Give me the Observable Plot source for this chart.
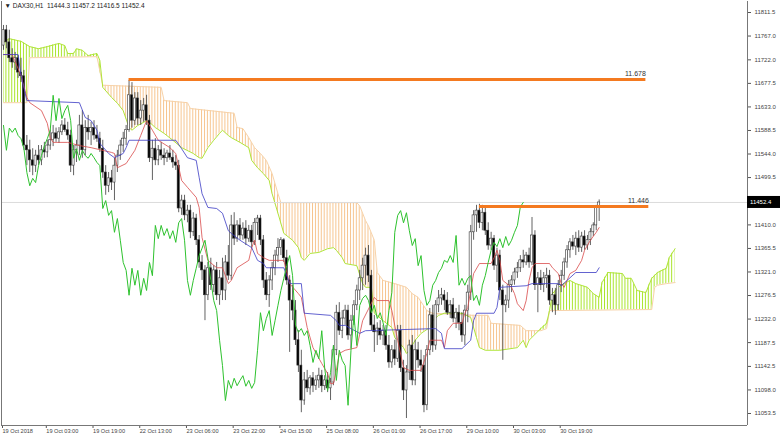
<!DOCTYPE html>
<html><head><meta charset="utf-8">
<script src="https://cdn.jsdelivr.net/npm/d3@7"></script>
<script src="https://cdn.jsdelivr.net/npm/@observablehq/plot@0.6"></script>
<style>
html,body{margin:0;padding:0;background:#fff;}
#chart svg{display:block;}
</style></head><body><div id="chart"></div>
<script>
// ---- Candles (H1, DAX30) ----
const open = [
11749,11778,11755,11725,11717,11725,11698,11691,11560,11551,
11532,11522,11541,11532,11551,11547,11560,11570,11583,11573,
11585,11598,11589,11579,11522,11551,11560,11598,11551,11593,
11585,11593,11579,11573,11554,11509,11484,11498,11490,11522,
11541,11560,11573,11589,11655,11607,11649,11611,11626,11636,
11607,11536,11554,11532,11551,11541,11536,11545,11537,11528,
11522,11441,11456,11428,11437,11396,11422,11381,11339,11324,
11277,11328,11296,11324,11277,11309,11286,11339,11314,11409,
11384,11409,11390,11403,11384,11399,11377,11414,11422,11381,
11305,11277,11305,11328,11352,11366,11381,11347,11305,11267,
11248,11192,11144,11078,11116,11101,11120,11106,11116,11125,
11105,11116,11101,11112,11173,11244,11210,11233,11248,11201,
11229,11258,11286,11309,11333,11352,11314,11220,11207,11214,
11201,11210,11182,11150,11173,11157,11210,11139,11097,11131,
11182,11116,11173,11154,11144,11069,11173,11239,11182,11258,
11271,11277,11267,11244,11258,11233,11244,11225,11201,11248,
11282,11396,11428,11437,11414,11433,11399,11371,11384,11333,
11352,11286,11258,11267,11296,11305,11320,11328,11343,11339,
11352,11339,11390,11296,11309,11296,11309,11314,11267,11277,
11258,11296,11314,11339,11362,11377,11369,11384,11367,11388,
11371,11381,11396,11409,11444.3];
const high = [
11787,11787,11778,11743,11736,11730,11725,11702,11579,11570,
11554,11551,11560,11560,11566,11570,11589,11598,11593,11594,
11607,11611,11604,11589,11560,11570,11617,11626,11607,11617,
11604,11607,11598,11585,11570,11522,11509,11513,11536,11551,
11570,11585,11598,11683,11679,11660,11660,11645,11649,11655,
11617,11570,11573,11560,11566,11554,11551,11560,11551,11541,
11532,11466,11466,11447,11447,11433,11430,11390,11352,11333,
11339,11347,11333,11339,11324,11347,11352,11371,11428,11433,
11418,11422,11414,11418,11409,11409,11422,11428,11428,11390,
11320,11314,11339,11362,11384,11386,11384,11362,11314,11296,
11267,11210,11173,11131,11135,11125,11131,11125,11139,11135,
11125,11131,11120,11182,11258,11263,11248,11258,11258,11239,
11267,11296,11324,11347,11366,11371,11324,11239,11225,11229,
11220,11220,11201,11182,11192,11220,11220,11154,11144,11192,
11201,11192,11188,11173,11163,11182,11252,11258,11267,11286,
11290,11286,11282,11267,11271,11252,11258,11244,11258,11296,
11409,11437,11447,11449,11447,11441,11414,11396,11390,11366,
11362,11296,11277,11305,11314,11328,11339,11352,11362,11358,
11366,11424,11399,11320,11324,11320,11328,11324,11290,11290,
11305,11324,11347,11371,11384,11390,11396,11399,11396,11399,
11390,11403,11414,11447,11457.2];
const low = [
11740,11743,11717,11706,11702,11687,11679,11551,11522,11509,
11503,11509,11522,11522,11536,11537,11551,11558,11566,11564,
11579,11585,11570,11509,11503,11528,11541,11536,11541,11570,
11560,11570,11566,11547,11498,11466,11471,11475,11456,11509,
11532,11547,11560,11585,11593,11598,11598,11598,11604,11598,
11528,11494,11522,11522,11532,11522,11528,11532,11517,11513,
11433,11428,11418,11414,11384,11388,11371,11328,11305,11229,
11267,11286,11282,11267,11258,11267,11267,11305,11305,11371,
11377,11381,11381,11371,11377,11366,11371,11390,11371,11290,
11267,11254,11286,11314,11339,11352,11339,11296,11169,11229,
11182,11131,11055,11069,11093,11088,11093,11097,11101,11093,
11097,11093,11078,11106,11163,11201,11195,11220,11192,11176,
11220,11248,11267,11286,11296,11301,11210,11169,11182,11192,
11182,11173,11139,11139,11144,11150,11131,11078,11044,11116,
11106,11106,11139,11131,11055,11059,11163,11169,11173,11244,
11258,11248,11239,11233,11225,11214,11210,11188,11182,11225,
11267,11381,11396,11403,11399,11390,11362,11362,11324,11301,
11267,11154,11244,11252,11282,11296,11309,11320,11328,11333,
11328,11333,11286,11244,11286,11282,11290,11258,11244,11239,
11248,11282,11305,11328,11347,11362,11352,11358,11358,11362,
11362,11371,11388,11399,11416.5];
const close = [
11778,11755,11725,11717,11725,11698,11691,11560,11551,11532,
11522,11541,11532,11551,11547,11560,11570,11583,11573,11585,
11598,11589,11579,11522,11551,11560,11598,11551,11593,11585,
11593,11579,11573,11554,11509,11484,11498,11490,11522,11541,
11560,11573,11589,11655,11607,11649,11611,11626,11636,11607,
11536,11554,11532,11551,11541,11536,11545,11537,11528,11522,
11441,11456,11428,11437,11396,11422,11381,11339,11324,11277,
11328,11296,11324,11277,11309,11286,11339,11314,11409,11384,
11409,11390,11403,11384,11399,11377,11414,11422,11381,11305,
11277,11305,11328,11352,11366,11381,11347,11305,11267,11248,
11192,11144,11078,11116,11101,11120,11106,11116,11125,11105,
11116,11101,11112,11173,11244,11210,11233,11248,11201,11229,
11258,11286,11309,11333,11352,11314,11220,11207,11214,11201,
11210,11182,11150,11173,11157,11210,11139,11097,11131,11182,
11116,11173,11154,11144,11069,11173,11239,11182,11258,11271,
11277,11267,11244,11258,11233,11244,11225,11201,11248,11282,
11396,11428,11437,11414,11433,11399,11371,11384,11333,11352,
11286,11258,11267,11296,11305,11320,11328,11343,11339,11352,
11339,11390,11296,11309,11296,11309,11314,11267,11277,11258,
11296,11314,11339,11362,11377,11369,11384,11367,11388,11371,
11381,11396,11409,11444,11452.4];

// ---- Ichimoku lines: [bar index, price] read at vertices ----
const tenkan = [[0,11732],[3,11732],[6,11692],[8,11651],[9,11641],[13,11626],[15,11602],[16,11575],[17,11566],[22,11566],[26,11560],[30,11556],[37,11547],[38,11545],[39,11518],[42,11526],[45,11551],[47,11579],[49,11607],[51,11589],[53,11570],[57,11556],[59,11545],[61,11494],[63,11481],[66,11462],[67,11443],[68,11386],[70,11343],[73,11329],[75,11329],[77,11299],[78,11305],[80,11329],[84,11343],[85,11367],[86,11381],[87,11356],[89,11348],[91,11343],[96,11343],[98,11299],[101,11280],[102,11273],[104,11216],[106,11178],[109,11148],[111,11129],[112,11110],[113,11110],[114,11135],[115,11167],[117,11173],[121,11178],[123,11229],[127,11273],[128,11267],[132,11267],[133,11248],[135,11192],[137,11140],[139,11135],[143,11135],[145,11167],[146,11192],[150,11192],[151,11178],[152,11210],[154,11224],[157,11224],[158,11243],[159,11254],[161,11318],[163,11337],[167,11337],[168,11348],[169,11362],[170,11343],[171,11305],[174,11292],[175,11280],[176,11261],[178,11248],[179,11267],[180,11305],[181,11329],[182,11337],[187,11337],[188,11329],[190,11318],[191,11299],[192,11292],[193,11305],[194,11318],[196,11324],[198,11343],[199,11362],[201,11381],[203,11396],[204,11405]];
const kijun = [[0,11732],[5,11732],[6,11692],[8,11645],[26,11641],[28,11613],[30,11607],[32,11589],[33,11564],[36,11545],[38,11537],[41,11545],[42,11556],[43,11570],[59,11570],[61,11554],[63,11537],[66,11532],[67,11500],[68,11469],[70,11443],[73,11441],[75,11432],[77,11399],[78,11394],[81,11381],[85,11367],[87,11343],[89,11337],[90,11329],[96,11329],[98,11299],[102,11299],[103,11243],[112,11239],[114,11229],[115,11220],[117,11220],[122,11205],[124,11210],[148,11214],[150,11205],[151,11176],[157,11176],[160,11192],[161,11229],[162,11243],[168,11243],[169,11254],[170,11292],[179,11295],[181,11299],[190,11299],[191,11295],[196,11320],[203,11320],[204,11329]];
const spanA = [[0,11755],[2,11762],[6,11757],[9,11747],[12,11743],[15,11747],[19,11753],[21,11749],[22,11734],[24,11734],[25,11743],[27,11740],[29,11730],[32,11734],[33,11721],[34,11670],[37,11651],[39,11640],[41,11626],[43,11594],[44,11589],[46,11598],[49,11607],[50,11604],[52,11594],[55,11583],[58,11570],[61,11556],[65,11545],[67,11537],[68,11536],[70,11556],[72,11570],[74,11583],[75,11589],[77,11579],[78,11575],[81,11566],[84,11556],[85,11532],[87,11518],[89,11507],[91,11494],[92,11469],[94,11432],[96,11394],[99,11381],[101,11367],[102,11348],[103,11343],[105,11356],[108,11358],[111,11365],[113,11367],[114,11362],[116,11348],[117,11337],[121,11333],[123,11299],[124,11292],[126,11292],[127,11243],[130,11229],[133,11216],[134,11197],[137,11178],[138,11167],[139,11173],[141,11192],[143,11205],[146,11216],[147,11229],[149,11239],[151,11243],[157,11243],[160,11235],[162,11197],[163,11178],[165,11173],[170,11173],[176,11178],[178,11192],[179,11178],[180,11192],[184,11214],[186,11224],[187,11248],[188,11280],[190,11292],[192,11299],[194,11305],[196,11299],[200,11292],[202,11280],[204,11273],[205,11301],[207,11320],[212,11318],[213,11309],[215,11309],[217,11286],[220,11282],[222,11309],[224,11320],[227,11328],[228,11348],[230,11365]];
const spanB = [[0,11641],[8,11641],[9,11726],[32,11728],[34,11674],[54,11670],[55,11645],[63,11641],[64,11630],[79,11621],[80,11594],[82,11592],[84,11575],[86,11556],[88,11545],[90,11532],[92,11507],[94,11469],[95,11452],[121,11452],[122,11446],[124,11418],[125,11408],[127,11381],[128,11320],[130,11305],[134,11299],[138,11292],[140,11280],[142,11273],[145,11248],[147,11243],[161,11239],[166,11239],[167,11224],[177,11220],[179,11210],[184,11210],[186,11214],[187,11248],[222,11250],[223,11292],[224,11296],[227,11299],[230,11301]];

// ---- Horizontal levels ----
const levelValues = [11685, 11445];
const levelFrom = [43, 163];
const levelTo = [220, 221];
const levelLabels = ["11.678", "11.446"];
const lastPrice = 11452.4;
const header = "\u25BC DAX30,H1  11444.3 11457.2 11416.5 11452.4";

// ---- Axis ticks ----
const xTickIdx = [0,15,31,47,63,79,95,111,127,143,159,175,191];
const xTickLabels = ["19 Oct 2018","19 Oct 03:00","19 Oct 19:00","22 Oct 13:00","23 Oct 06:00","23 Oct 22:00","24 Oct 15:00","25 Oct 08:00","26 Oct 01:00","26 Oct 17:00","29 Oct 10:00","30 Oct 03:00","30 Oct 19:00"];
const yTicks = [11811.5,11767.0,11722.0,11677.5,11633.0,11588.5,11544.0,11499.5,11410.0,11365.5,11321.0,11276.5,11232.0,11187.5,11142.5,11098.0,11053.5];

const candles = open.map((o, i) => ({i, open: o, high: high[i], low: low[i], close: close[i]}));
const levels = levelValues.map((v, k) => ({value: v, from: levelFrom[k], to: levelTo[k], label: levelLabels[k]}));
const xLab = new Map(xTickIdx.map((d, k) => [d, xTickLabels[k]]));
const xDom = [-0.685, 254.8];
const yDom = [11030.8, 11832.3];
const px = d => d[0], py = d => d[1];
const FONT = "Liberation Sans, Arial, sans-serif";

const plot = Plot.plot({
  width: 780, height: 437,
  marginLeft: 1, marginRight: 33, marginTop: 1, marginBottom: 12,
  x: {domain: xDom, axis: null},
  y: {domain: yDom, axis: null},
  color: {type: "identity"},
  style: {fontFamily: FONT, background: "white", color: "#333", overflow: "visible"},
  marks: [
    // cloud: B>A (peach) = above A and below B
    Plot.areaY(spanA, {x: px, y1: py, y2: yDom[1], fill: "url(#hatchPeach)"}),
    Plot.areaY(spanB, {x: px, y1: yDom[0], y2: py, fill: "black"}),
    // cloud: A>B (green) = above B and below A
    Plot.areaY(spanB, {x: px, y1: py, y2: yDom[1], fill: "url(#hatchGreen)"}),
    Plot.areaY(spanA, {x: px, y1: yDom[0], y2: py, fill: "black"}),
    Plot.line(spanB, {x: px, y: py, stroke: "#f7d2a8", strokeWidth: 1}),
    Plot.line(spanA, {x: px, y: py, stroke: "#b0e53a", strokeWidth: 1}),
    Plot.ruleY([lastPrice], {stroke: "#dcdcdc", strokeWidth: 1}),
    Plot.ruleX(candles, {x: "i", y1: "low", y2: "high", stroke: "#3a3a3a", strokeWidth: 0.8}),
    Plot.rect(candles, {x1: d => d.i - 0.36, x2: d => d.i + 0.36, y1: "open", y2: "close",
      fill: d => d.close >= d.open ? "#ffffff" : "#000000", stroke: "#333", strokeWidth: 0.6}),
    Plot.line(tenkan, {x: px, y: py, stroke: "#d94a4a", strokeWidth: 0.8}),
    Plot.line(kijun, {x: px, y: py, stroke: "#3b3bc4", strokeWidth: 0.8}),
    Plot.line(candles.filter(d => d.i >= 26), {x: d => d.i - 26, y: "close", stroke: "#2ec22e", strokeWidth: 1}),
    Plot.ruleY(levels, {y: "value", x1: "from", x2: "to", stroke: "#f47a20", strokeWidth: 3}),
    Plot.text(levels, {x: "to", y: "value", text: "label", textAnchor: "end", dy: -6, fontSize: 7, fill: "#333"}),
    Plot.axisY({anchor: "right", ticks: yTicks, tickFormat: d => d.toFixed(1), tickSize: 3, tickPadding: 4, fontSize: 6, stroke: "#555", fill: "#444"}),
    Plot.axisX({anchor: "bottom", ticks: xTickIdx, tickFormat: d => xLab.get(d), tickSize: 3, tickPadding: 1, textAnchor: "start", dx: -1, fontSize: 5.6, stroke: "#555", fill: "#444"}),
    Plot.ruleX([xDom[0], xDom[1]], {stroke: "#777"}),
    Plot.ruleY([yDom[0]], {stroke: "#777"}),
    Plot.text([header], {frameAnchor: "top-left", dx: 3, dy: 2, textAnchor: "start", lineAnchor: "top", fontSize: 6.5, fill: "#222"})
  ]
});
document.getElementById("chart").appendChild(plot);

// ---- patterns, clip paths and last-price tag ----
const svg = d3.select(plot);
const defs = svg.insert("defs", ":first-child");
const xs = plot.scale("x"), ys = plot.scale("y");
const step = xs.apply(1) - xs.apply(0), x0 = xs.apply(0);
function pattern(id, color) {
  const p = defs.append("pattern").attr("id", id).attr("patternUnits", "userSpaceOnUse")
    .attr("width", step).attr("height", 10).attr("x", x0 - 0.5).attr("y", 0);
  p.append("rect").attr("width", 1).attr("height", 10).attr("fill", color);
}
pattern("hatchPeach", "#f6c48e");
pattern("hatchGreen", "#a9e42a");
const areas = plot.querySelectorAll('g[aria-label="area"]');
function clip(target, source, id) {
  const cp = defs.append("clipPath").attr("id", id);
  source.querySelectorAll("path").forEach(p => cp.node().appendChild(p.cloneNode()));
  source.remove();
  target.setAttribute("clip-path", `url(#${id})`);
}
clip(areas[0], areas[1], "clipPeach");
clip(areas[2], areas[3], "clipGreen");
const yp = ys.apply(lastPrice);
const xr = xs.apply(xDom[1]);
svg.append("rect").attr("x", xr).attr("y", yp - 6).attr("width", 780 - xr).attr("height", 12).attr("fill", "#000");
svg.append("text").attr("x", xr + 3).attr("y", yp).attr("dy", "0.35em").attr("fill", "#fff")
  .attr("text-anchor", "start").attr("font-size", 6).attr("font-family", FONT).text(lastPrice.toFixed(1));
</script>
</body></html>
